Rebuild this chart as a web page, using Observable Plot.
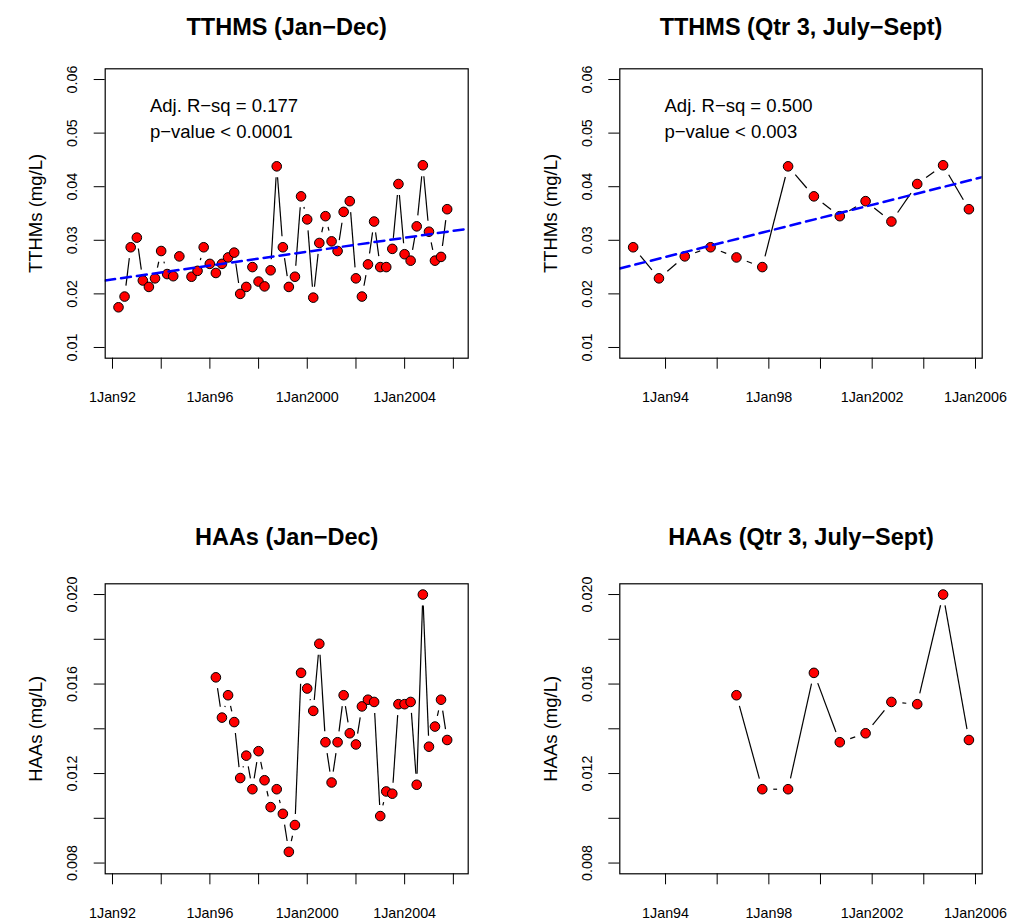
<!DOCTYPE html>
<html><head><meta charset="utf-8">
<script src="https://cdn.jsdelivr.net/npm/d3@7"></script>
<script src="https://cdn.jsdelivr.net/npm/@observablehq/plot@0.6"></script>
<style>
html,body{margin:0;padding:0;background:#fff;}
#wrap{position:relative;width:1014px;height:924px;font-family:"Liberation Sans",Arial,sans-serif;color:#000;}
.panel{position:absolute;width:507px;height:462px;}
</style></head><body><div id="wrap"></div>
<script>
// ---- data ----
const tthmQuarters = [
 "1992Q1","1992Q2","1992Q3","1992Q4","1993Q1","1993Q2","1993Q3","1993Q4",
 "1994Q1","1994Q2","1994Q3","1994Q4","1995Q1","1995Q2","1995Q3","1995Q4",
 "1996Q1","1996Q2","1996Q3","1996Q4","1997Q1","1997Q2","1997Q3","1997Q4",
 "1998Q1","1998Q2","1998Q3","1998Q4","1999Q1","1999Q2","1999Q3","1999Q4",
 "2000Q1","2000Q2","2000Q3","2000Q4","2001Q1","2001Q2","2001Q3","2001Q4",
 "2002Q1","2002Q2","2002Q3","2002Q4","2003Q1","2003Q2","2003Q3","2003Q4",
 "2004Q1","2004Q2","2004Q3","2004Q4","2005Q1","2005Q2","2005Q3"];
const tthmValues = [
 0.0175,0.0195,0.0287,0.0305,0.0225,0.0213,0.0229,0.0280,
 0.0237,0.0233,0.0270,null,0.0232,0.0243,0.0287,0.0256,
 0.0239,0.0256,0.0268,0.0277,0.0200,0.0213,0.0250,0.0223,
 0.0214,0.0244,0.0438,0.0287,0.0213,0.0232,0.0382,0.0339,
 0.0193,0.0295,0.0345,0.0298,0.0280,0.0353,0.0373,0.0229,
 0.0195,0.0255,0.0335,0.0250,0.0250,0.0284,0.0405,0.0274,
 0.0262,0.0326,0.0440,0.0316,0.0262,0.0269,0.0358];
const haaQuarters = [
 "1996Q1","1996Q2","1996Q3","1996Q4","1997Q1","1997Q2","1997Q3","1997Q4",
 "1998Q1","1998Q2","1998Q3","1998Q4","1999Q1","1999Q2","1999Q3","1999Q4",
 "2000Q1","2000Q2","2000Q3","2000Q4","2001Q1","2001Q2","2001Q3","2001Q4",
 "2002Q1","2002Q2","2002Q3","2002Q4","2003Q1","2003Q2","2003Q3","2003Q4",
 "2004Q1","2004Q2","2004Q3","2004Q4","2005Q1","2005Q2","2005Q3"];
const haaValues = [
 0.0163,0.0145,0.0155,0.0143,0.0118,0.0128,0.0113,0.0130,
 0.0117,0.0105,0.0113,0.0102,0.0085,0.0097,0.0165,0.0158,
 0.0148,0.0178,0.0134,0.0116,0.0134,0.0155,0.0138,0.0133,
 0.0150,0.0153,0.0152,0.0101,0.0112,0.0111,0.0151,0.0151,
 0.0152,0.0115,0.0200,0.0132,0.0141,0.0153,0.0135];

const xTickYears = [1992,1994,1996,1998,2000,2002,2004,2006];
const xLabelYearsAll = [1992,1996,2000,2004];
const xLabelYearsQ3 = [1994,1998,2002,2006];
const yTicksTthm = [0.01,0.02,0.03,0.04,0.05,0.06];
const yTicksHaa = [0.008,0.010,0.012,0.014,0.016,0.018,0.020];
const yLabelsHaa = [0.008,0.012,0.016,0.020];
const titles = ["TTHMS (Jan\u2212Dec)","TTHMS (Qtr 3, July\u2212Sept)","HAAs (Jan\u2212Dec)","HAAs (Qtr 3, July\u2212Sept)"];
const yTitles = ["TTHMs (mg/L)","HAAs (mg/L)"];
const annotAll = ["Adj. R\u2212sq = 0.177","p\u2212value < 0.0001"];
const annotQ3 = ["Adj. R\u2212sq = 0.500","p\u2212value < 0.003"];
// fitted lines: value at 1992.0 and slope per year
const fitAll = {at1992: 0.02269, slope: 0.000648};
const fitQ3 = {at1992: 0.02446, slope: 0.001215};
// axis limits (decimal years / mg/L)
const xLimAll = [1991.70, 2006.61];
const xLimQ3 = [1992.23, 2006.26];
const yLimTthm = [0.008, 0.062];
const yLimHaa = [0.00752, 0.02048];

// ---- helpers ----
function qDate(q){ const y=+q.slice(0,4), k=+q.slice(5); return new Date(Date.UTC(y, 3*k, 0)); }
function decYear(d){ const y=Math.floor(d); const s=Date.UTC(y,0,1), e=Date.UTC(y+1,0,1); return new Date(s+(d-y)*(e-s)); }
function fmtTick(d){ const y=d.getUTCFullYear(); return "1Jan" + (y<2000 ? String(y).slice(2) : String(y)); }

const tthm = tthmQuarters.map((q,i)=>({q, date:qDate(q), v:tthmValues[i]}));
const haa = haaQuarters.map((q,i)=>({q, date:qDate(q), v:haaValues[i]}));
const isQ3 = d => d.q.endsWith("Q3");

const FONT = '"Liberation Sans", Arial, sans-serif';

function panel(o){
  const xDomain = o.xLim.map(decYear);
  const pts = o.data.filter(d => d.v != null);
  const segs = [];
  for (let i=1;i<o.data.length;i++){
    const a=o.data[i-1], b=o.data[i];
    if (a.v!=null && b.v!=null) segs.push({x1:a.date,y1:a.v,x2:b.date,y2:b.v});
  }
  const ticks = xTickYears.map(y=>new Date(Date.UTC(y,0,1))).filter(d=>d>=xDomain[0] && d<=xDomain[1]);
  const marks = [
    Plot.axisX({ticks, tickSize: 11, tickPadding: 23, fontSize: 14.3, label: null,
      tickFormat: d => o.xLabeled.includes(d.getUTCFullYear()) ? fmtTick(d) : ""}),
    Plot.axisY({ticks: o.yTicks, tickSize: 11, tickPadding: 17, tickRotate: -90, fontSize: 14.3, label: null,
      tickFormat: d => o.yLabeled.some(v=>Math.abs(v-d)<1e-9) ? d3.format(o.yFmt)(d) : ""}),
    Plot.text([o.ylab], {text: d=>d, frameAnchor:"left", dx:-69, rotate:-90, fontSize: 18.5, textAnchor:"middle", lineAnchor:"middle"}),
    Plot.text([o.title], {text: d=>d, frameAnchor:"top", dy:o.titleDy, fontSize: 23.5, fontWeight:"bold", lineAnchor:"middle"}),
    Plot.arrow(segs, {x1:"x1",y1:"y1",x2:"x2",y2:"y2", headLength:0, inset:11, stroke:"black", strokeWidth:1.2, strokeLinecap:"butt"}),
    Plot.dot(pts, {x:"date", y:"v", r:4.8, fill:"red", stroke:"black", strokeWidth:1})
  ];
  if (o.fit){
    const fitPts = o.xLim.map(yr => ({x: decYear(yr), y: o.fit.at1992 + o.fit.slope*(yr-1992)}));
    marks.push(Plot.line(fitPts, {x:"x", y:"y", stroke:"#0000ff", strokeWidth:2.5, strokeDasharray:"10,6", clip:true}));
  }
  if (o.annot){
    marks.push(Plot.text([o.annot[0]], {text:d=>d, frameAnchor:"top-left", dx:44.7, dy:43.4, textAnchor:"start", lineAnchor:"bottom", fontSize:18.5}));
    marks.push(Plot.text([o.annot[1]], {text:d=>d, frameAnchor:"top-left", dx:44.7, dy:69.2, textAnchor:"start", lineAnchor:"bottom", fontSize:18.5}));
  }
  marks.push(Plot.frame({stroke:"black", strokeWidth:1.2}));
  const svg = Plot.plot({
    width: 507, height: 462,
    marginLeft: o.m[0], marginRight: o.m[1], marginTop: o.m[2], marginBottom: o.m[3],
    x: {type:"utc", domain: xDomain},
    y: {domain: o.yLim},
    style: {fontFamily: FONT, color:"#000", background:"#fff", overflow:"visible"},
    marks
  });
  const div = document.createElement("div");
  div.className = "panel";
  div.style.left = o.left + "px"; div.style.top = o.top + "px";
  div.appendChild(svg);
  document.getElementById("wrap").appendChild(div);
}

panel({data: tthm, xLim: xLimAll, yLim: yLimTthm, yTicks: yTicksTthm, yLabeled: yTicksTthm, yFmt: ".2f",
  xLabeled: xLabelYearsAll, title: titles[0], ylab: yTitles[0], fit: fitAll, annot: annotAll, titleDy: -41,
  m: [104.7, 39.3, 68.3, 104.3], left: 0, top: 0});
panel({data: tthm.filter(isQ3), xLim: xLimQ3, yLim: yLimTthm, yTicks: yTicksTthm, yLabeled: yTicksTthm, yFmt: ".2f",
  xLabeled: xLabelYearsQ3, title: titles[1], ylab: yTitles[0], fit: fitQ3, annot: annotQ3, titleDy: -41,
  m: [112.3, 32.3, 68.3, 104.3], left: 507, top: 0});
panel({data: haa, xLim: xLimAll, yLim: yLimHaa, yTicks: yTicksHaa, yLabeled: yLabelsHaa, yFmt: ".3f",
  xLabeled: xLabelYearsAll, title: titles[2], ylab: yTitles[1], titleDy: -46,
  m: [104.7, 39.3, 121.3, 50.7], left: 0, top: 462});
panel({data: haa.filter(isQ3), xLim: xLimQ3, yLim: yLimHaa, yTicks: yTicksHaa, yLabeled: yLabelsHaa, yFmt: ".3f",
  xLabeled: xLabelYearsQ3, title: titles[3], ylab: yTitles[1], titleDy: -46,
  m: [112.3, 32.3, 121.3, 50.7], left: 507, top: 462});
</script></body></html>
